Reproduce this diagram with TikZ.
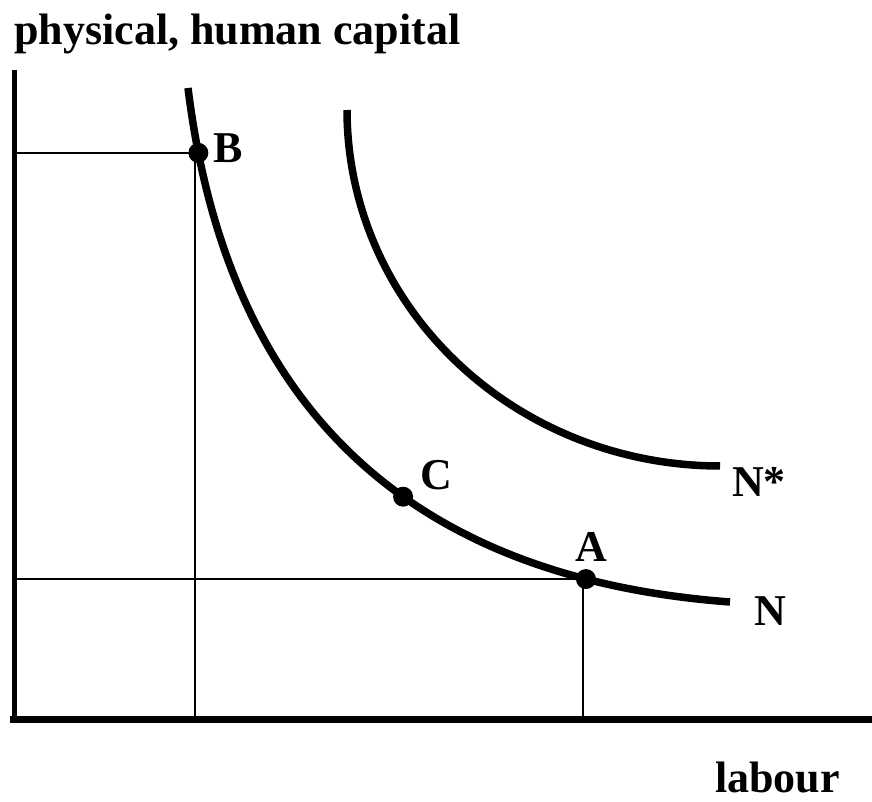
\documentclass[tikz,border=0pt]{standalone}
\usepackage{fontspec}
\setmainfont{Liberation Serif}
\begin{document}
\begin{tikzpicture}[x=1pt,y=-1pt,
  yaxis/.style={line width=5pt},
  xaxis/.style={line width=7pt},
  curve/.style={line width=7.5pt},
  guide/.style={line width=1.8pt},
  dot/.style={circle, fill=black, inner sep=0pt, minimum size=20pt},
  lbl/.style={font=\fontsize{44}{50}\selectfont\bfseries, inner sep=0pt}]
\useasboundingbox (0,0) rectangle (872,802);
% axes
\coordinate (O) at (14,719);
\coordinate (ytop) at (14,70);
\coordinate (xstart) at (10,719);
\coordinate (xend) at (872,719);
% curve N (path only, to get points)
\path (188,88) .. controls (230,428) and (430,579.5) .. (730,602)
  coordinate[pos=0.066] (Bp) coordinate[pos=0.57] (Cp) coordinate[pos=0.83] (Ap);
% guide lines
\draw[guide] (Bp -| O) -- (Bp);
\draw[guide] ([xshift=-3pt]Bp) -- ([xshift=-3pt]Bp |- O);
\draw[guide] (Ap -| O) -- (Ap);
\draw[guide] ([xshift=-3pt]Ap) -- ([xshift=-3pt]Ap |- O);
% axes
\draw[yaxis] (ytop) -- (O);
\draw[xaxis] (xstart) -- (xend);
% curves
\draw[curve] (188,88) .. controls (230,428) and (430,579.5) .. (730,602);
\draw[curve] plot[domain=0:90, samples=90] ({720-373*cos(\x)}, {110+356*sin(\x)});
% points
\node[dot] (B) at (Bp) {};
\node[dot] (C) at (Cp) {};
\node[dot] (A) at (Ap) {};
% labels
\node[lbl] (labB) at (228,148) {B};
\node[lbl] (labC) at (436,475) {C};
\node[lbl] (labA) at (591,547) {A};
\node[lbl] (labNs) at (759,482) {N*};
\node[lbl] (labN) at (770,611) {N};
\node[lbl, anchor=base west] (ylabel) at (14,45) {physical, human capital};
\node[lbl, anchor=base west] (xlabel) at (715,792) {labour};
\end{tikzpicture}
\end{document}
